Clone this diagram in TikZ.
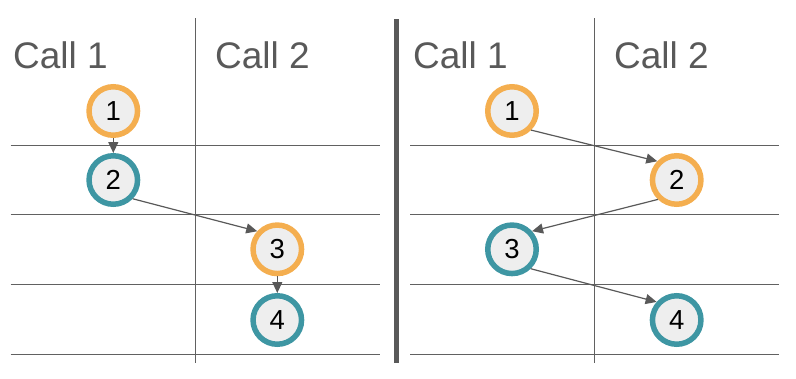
\documentclass[tikz,border=0pt]{standalone}
\usepackage{fontspec}
\setmainfont{Liberation Sans}
\usetikzlibrary{arrows.meta}
\definecolor{lg}{HTML}{595959}
\definecolor{orng}{HTML}{F4AE4F}
\definecolor{teal2}{HTML}{3E96A3}
\definecolor{fillg}{HTML}{EEEEEE}
\begin{document}
\begin{tikzpicture}[x=1pt,y=-1pt,
  grid/.style={draw=lg!95, line width=1.3pt},
  hdr/.style={anchor=base west, text=lg, font=\fontsize{37}{40}\selectfont, inner sep=0},
  num/.style={circle, fill=fillg, line width=5.5pt, minimum size=48.5pt, inner sep=0, font=\fontsize{27.5}{30}\selectfont},
  ora/.style={num, draw=orng},
  tea/.style={num, draw=teal2},
  conn/.style={draw=lg, line width=1.2pt, -{Triangle[length=11pt,width=10pt]}}
]
\useasboundingbox (0,0) rectangle (796,378);
% grids
\foreach \y in {145.7,214.7,284.7,354.7} {
  \draw[grid] (10.7,\y) -- (380,\y);
  \draw[grid] (410,\y) -- (779,\y);
}
\draw[grid] (195.3,18) -- (195.3,363);
\draw[grid] (594.3,18) -- (594.3,363);
\draw[draw=lg, line width=5pt] (396.5,19) -- (396.5,363);
% headers
\node[hdr] (l1) at (13,68) {Call 1};
\node[hdr] (l2) at (215,68) {Call 2};
\node[hdr] (r1) at (413,68) {Call 1};
\node[hdr] (r2) at (614,68) {Call 2};
% left circles
\node[ora] (a1) at (113.3,111) {1};
\node[tea] (a2) at (113.3,180) {2};
\node[ora] (a3) at (277.3,249.3) {3};
\node[tea] (a4) at (277.3,320) {4};
% right circles
\node[ora] (b1) at (512,111) {1};
\node[ora] (b2) at (676.7,180) {2};
\node[tea] (b3) at (512,249.3) {3};
\node[tea] (b4) at (676.7,320) {4};
% connectors
\draw[conn] (a1.south) -- (a2.north);
\draw[conn] (a2.-44) -- (a3.138);
\draw[conn] (a3.south) -- (a4.north);
\draw[conn] (b1.-45) -- (b2.136);
\draw[conn] (b2.226) -- (b3.42);
\draw[conn] (b3.-46) -- (b4.138);
\end{tikzpicture}
\end{document}
